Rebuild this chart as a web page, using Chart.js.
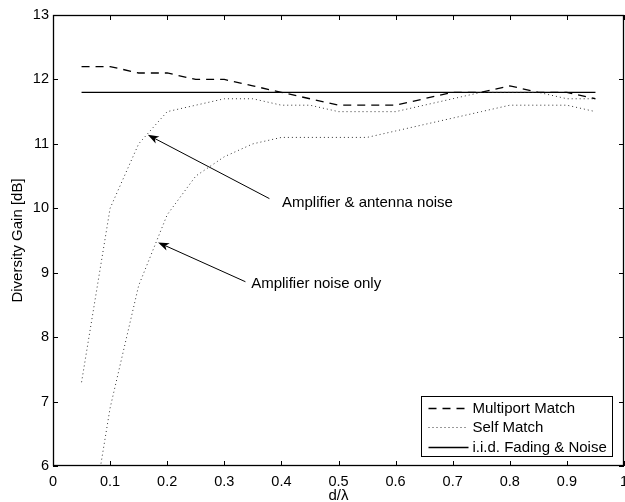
<!DOCTYPE html>
<html>
<head>
<meta charset="utf-8">
<script src="https://cdn.jsdelivr.net/npm/chart.js@4.4.1/dist/chart.umd.min.js"></script>
<style>
  html, body { margin: 0; padding: 0; background: #fff; }
  #gainChart { display: block; }
</style>
</head>
<body>
<canvas id="gainChart" width="625" height="502"></canvas>
<script>
// antenna spacing d/lambda
const spacing = [0.05, 0.1, 0.15, 0.2, 0.25, 0.3, 0.35, 0.4, 0.45, 0.5, 0.55, 0.6, 0.65, 0.7, 0.75, 0.8, 0.85, 0.9, 0.95];

// diversity gain in dB
const multiportMatch = [12.2, 12.2, 12.1, 12.1, 12.0, 12.0, 11.9, 11.8, 11.7, 11.6, 11.6, 11.6, 11.7, 11.8, 11.8, 11.9, 11.8, 11.8, 11.7];
const selfMatchAntNoise = [7.3, 10.0, 11.0, 11.5, 11.6, 11.7, 11.7, 11.6, 11.6, 11.5, 11.5, 11.5, 11.6, 11.7, 11.8, 11.8, 11.8, 11.7, 11.7];
const selfMatchAmpNoise = [4.2, 6.9, 8.8, 9.9, 10.5, 10.8, 11.0, 11.1, 11.1, 11.1, 11.1, 11.2, 11.3, 11.4, 11.5, 11.6, 11.6, 11.6, 11.5];
const iidFadingNoise = [11.8, 11.8, 11.8, 11.8, 11.8, 11.8, 11.8, 11.8, 11.8, 11.8, 11.8, 11.8, 11.8, 11.8, 11.8, 11.8, 11.8, 11.8, 11.8];

const xTicks = [0, 0.1, 0.2, 0.3, 0.4, 0.5, 0.6, 0.7, 0.8, 0.9, 1];
const yTicks = [6, 7, 8, 9, 10, 11, 12, 13];

// arrow callouts, in data units
const callouts = [
    { text: 'Amplifier & antenna noise', tip: [0.166, 11.14], tail: [0.379, 10.15], label: [0.401, 10.09] },
    { text: 'Amplifier noise only', tip: [0.184, 9.47], tail: [0.337, 8.86], label: [0.347, 8.83] }
];

const FONT = '"Liberation Sans", Arial, Helvetica, sans-serif';

const toPoints = ys => spacing.map((x, i) => ({ x: x, y: ys[i] }));

function lineSet(label, ys, dash, width, color) {
    return {
        label: label,
        data: toPoints(ys),
        borderColor: color,
        borderWidth: width,
        borderDash: dash,
        pointRadius: 0,
        tension: 0,
        fill: false
    };
}

// box around the plot with inward ticks on all four sides
const frameTicks = {
    id: 'frameTicks',
    afterDatasetsDraw(chart) {
        const { ctx, chartArea: a, scales: { x, y } } = chart;
        const len = 5;
        ctx.save();
        ctx.strokeStyle = '#000';
        ctx.lineWidth = 1;
        ctx.beginPath();
        x.ticks.forEach(t => {
            const px = Math.round(x.getPixelForValue(t.value)) + 0.5;
            ctx.moveTo(px, a.bottom); ctx.lineTo(px, a.bottom - len);
            ctx.moveTo(px, a.top); ctx.lineTo(px, a.top + len);
        });
        y.ticks.forEach(t => {
            const py = Math.round(y.getPixelForValue(t.value)) + 0.5;
            ctx.moveTo(a.left, py); ctx.lineTo(a.left + len, py);
            ctx.moveTo(a.right, py); ctx.lineTo(a.right - len, py);
        });
        ctx.stroke();
        ctx.lineWidth = 1.3;
        ctx.strokeRect(a.left + 0.5, a.top + 0.5, a.right - a.left - 1, a.bottom - a.top - 1);
        ctx.restore();
    }
};

// arrows pointing at the self match curves
const arrowNotes = {
    id: 'arrowNotes',
    afterDatasetsDraw(chart) {
        const { ctx, scales: { x, y } } = chart;
        ctx.save();
        ctx.strokeStyle = '#000';
        ctx.fillStyle = '#000';
        ctx.lineWidth = 1;
        ctx.font = '15px ' + FONT;
        ctx.textAlign = 'left';
        ctx.textBaseline = 'middle';
        callouts.forEach(c => {
            const tx = x.getPixelForValue(c.tip[0]), ty = y.getPixelForValue(c.tip[1]);
            const sx = x.getPixelForValue(c.tail[0]), sy = y.getPixelForValue(c.tail[1]);
            const ang = Math.atan2(ty - sy, tx - sx);
            const headLen = 11, headW = 4, notch = 8;
            const bx = tx - Math.cos(ang) * notch, by = ty - Math.sin(ang) * notch;
            ctx.beginPath();
            ctx.moveTo(sx, sy);
            ctx.lineTo(bx, by);
            ctx.stroke();
            const cx = tx - Math.cos(ang) * headLen, cy = ty - Math.sin(ang) * headLen;
            const nx = -Math.sin(ang) * headW, ny = Math.cos(ang) * headW;
            ctx.beginPath();
            ctx.moveTo(tx, ty);
            ctx.lineTo(cx + nx, cy + ny);
            ctx.lineTo(bx, by);
            ctx.lineTo(cx - nx, cy - ny);
            ctx.closePath();
            ctx.fill();
            ctx.fillText(c.text, x.getPixelForValue(c.label[0]), y.getPixelForValue(c.label[1]));
        });
        ctx.restore();
    }
};

// legend box in the lower right corner, one row per series style
const boxLegend = {
    id: 'boxLegend',
    afterDraw(chart) {
        const { ctx, chartArea: a } = chart;
        const rows = [0, 1, 3].map(i => chart.data.datasets[i]);
        const w = 191, h = 60;
        const left = Math.round(a.right - 12 - w) + 0.5;
        const top = Math.round(a.bottom - 10 - h) + 0.5;
        ctx.save();
        ctx.fillStyle = '#fff';
        ctx.fillRect(left, top, w, h);
        ctx.strokeStyle = '#000';
        ctx.lineWidth = 1;
        ctx.strokeRect(left, top, w, h);
        ctx.font = '15px ' + FONT;
        ctx.textBaseline = 'middle';
        ctx.textAlign = 'left';
        rows.forEach((ds, i) => {
            const ry = Math.round(top + 11.5 + i * 19.3) + 0.5;
            ctx.beginPath();
            ctx.setLineDash(ds.borderDash || []);
            ctx.strokeStyle = ds.borderColor;
            ctx.lineWidth = ds.borderWidth;
            ctx.moveTo(left + 7, ry);
            ctx.lineTo(left + 47, ry);
            ctx.stroke();
            ctx.setLineDash([]);
            ctx.fillStyle = '#000';
            ctx.fillText(ds.label, left + 51, ry);
        });
        ctx.restore();
    }
};

new Chart(document.getElementById('gainChart'), {
    type: 'line',
    data: {
        datasets: [
            lineSet('Multiport Match', multiportMatch, [8, 6], 1.3, '#000'),
            lineSet('Self Match', selfMatchAntNoise, [1, 3], 1, '#333'),
            lineSet('Self Match', selfMatchAmpNoise, [1, 3], 1, '#333'),
            lineSet('i.i.d. Fading & Noise', iidFadingNoise, [], 1.3, '#000')
        ]
    },
    options: {
        responsive: false,
        animation: false,
        layout: { padding: { top: 15, right: 1, left: 0, bottom: 0 } },
        plugins: {
            legend: { display: false },
            tooltip: { enabled: false }
        },
        scales: {
            x: {
                type: 'linear',
                min: 0,
                max: 1,
                grid: { display: false, drawTicks: false },
                border: { display: false },
                afterBuildTicks: s => { s.ticks = xTicks.map(v => ({ value: v })); },
                afterFit: s => { s.height = 36; s.paddingLeft = 0; s.paddingRight = 0; },
                ticks: {
                    padding: 7,
                    color: '#000',
                    font: { family: FONT, size: 14.5 },
                    maxRotation: 0,
                    callback: v => String(v)
                },
                title: {
                    display: true,
                    text: 'd/λ',
                    color: '#000',
                    font: { family: FONT, size: 15 },
                    padding: { top: 0, bottom: -3 }
                }
            },
            y: {
                min: 6,
                max: 13,
                grid: { display: false, drawTicks: false },
                border: { display: false },
                afterBuildTicks: s => { s.ticks = yTicks.map(v => ({ value: v })); },
                afterFit: s => { s.width = 53; s.paddingTop = 0; s.paddingBottom = 0; },
                ticks: {
                    padding: 4,
                    color: '#000',
                    font: { family: FONT, size: 14.5 },
                    callback: v => String(v)
                },
                title: {
                    display: true,
                    text: 'Diversity Gain [dB]',
                    color: '#000',
                    font: { family: FONT, size: 15 },
                    padding: { top: 9, bottom: 0 }
                }
            }
        }
    },
    plugins: [frameTicks, arrowNotes, boxLegend]
});
</script>
</body>
</html>
